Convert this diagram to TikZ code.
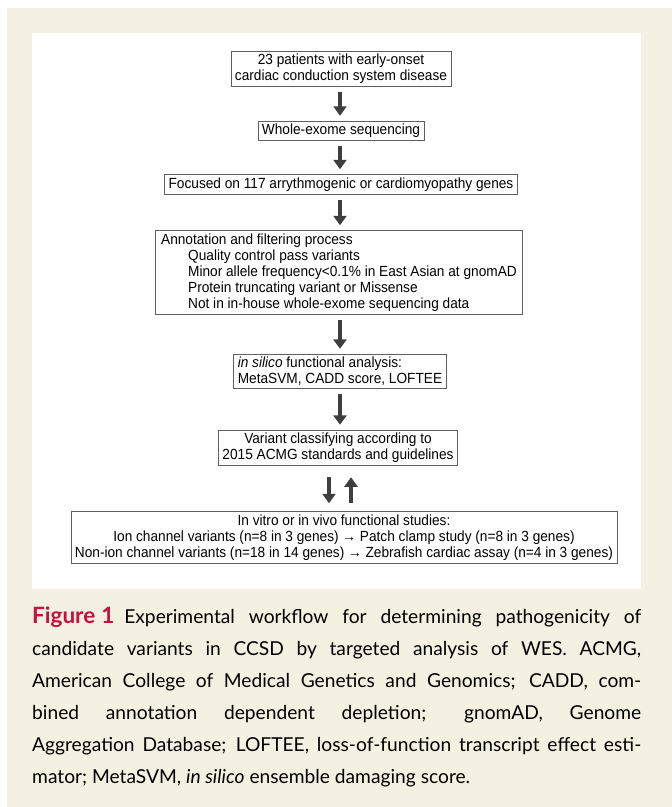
\documentclass[tikz,border=0pt]{standalone}
\usepackage{fontspec}
\setmainfont{Liberation Sans}[FakeStretch=0.93]
\newfontfamily\capfont{Lato}
\usetikzlibrary{arrows.meta}
\definecolor{cream}{RGB}{244,240,226}
\definecolor{figred}{RGB}{200,16,60}
\definecolor{arrgray}{RGB}{62,62,62}
\definecolor{boxline}{RGB}{95,95,95}
\begin{document}
\begin{tikzpicture}[x=1pt,y=-1pt,
  box/.style={draw=boxline, line width=0.8pt, fill=white, inner xsep=4pt, inner ysep=3pt,
    font=\fontsize{14.7}{16}\selectfont, align=center},
  arr/.style={draw=arrgray, line width=3.1pt, -{Triangle[width=13pt,length=9.5pt]},
    shorten <=5pt, shorten >=5pt}]
\useasboundingbox (0,0) rectangle (672,807);
\fill[white] (0,0) rectangle (672,807);
\fill[cream] (7,8) rectangle (672,807);
\fill[white] (32,33) rectangle (641,589);

\node[box] (b1) at (341,69) {23 patients with early-onset\\cardiac conduction system disease};
\node[box] (b2) at (341,131) {Whole-exome sequencing};
\node[box] (b3) at (341,184.5) {Focused on 117 arrythmogenic or cardiomyopathy genes};
\node[box, align=left, inner xsep=6pt] (b4) at (339,272.5) {Annotation and filtering process\\
\hspace*{27pt}Quality control pass variants\\
\hspace*{27pt}Minor allele frequency<0.1\% in East Asian at gnomAD\\
\hspace*{27pt}Protein truncating variant or Missense\\
\hspace*{27pt}Not in in-house whole-exome sequencing data};
\node[box, align=left] (b5) at (340,371.5) {\textit{in silico} functional analysis:\\MetaSVM, CADD score, LOFTEE};
\node[box] (b6) at (338,448) {Variant classifying according to\\2015 ACMG standards and guidelines};
\node[box] (b7) at (344,537.5) {In vitro or in vivo functional studies:\\
Ion channel variants (n=8 in 3 genes) → Patch clamp study (n=8 in 3 genes)\\
Non-ion channel variants (n=18 in 14 genes) → Zebrafish cardiac assay (n=4 in 3 genes)};

\coordinate (ax) at (340,0);
\draw[arr] (b1.south -| ax) -- (b2.north -| ax);
\draw[arr] (b2.south -| ax) -- (b3.north -| ax);
\draw[arr] (b3.south -| ax) -- (b4.north -| ax);
\draw[arr] (b4.south -| ax) -- (b5.north -| ax);
\draw[arr] (b5.south -| ax) -- (b6.north -| ax);
\coordinate (dx) at (329,0);
\coordinate (ux) at (351,0);
\draw[arr, shorten <=11pt, shorten >=8pt] (b6.south -| dx) -- (b7.north -| dx);
\draw[arr, shorten <=8pt, shorten >=11pt] (b7.north -| ux) -- (b6.south -| ux);

\node[anchor=north west, inner sep=0pt, text width=609pt, align=justify,
  font=\capfont\fontsize{19.2}{32}\selectfont] (cap) at (32,607) {\noindent
{\bfseries\color{figred}\fontsize{22.5}{32}\selectfont Figure\hspace{6pt}1}\hspace{10pt}Experimental workflow for determining pathogenicity of\linebreak
candidate variants in CCSD by targeted analysis of WES. ACMG,\linebreak
American College of Medical Genetics and Genomics; CADD, com-\linebreak
bined annotation dependent depletion; gnomAD, Genome\linebreak
Aggregation Database; LOFTEE, loss-of-function transcript effect esti-\linebreak
mator; MetaSVM, \textit{in silico} ensemble damaging score.};
\end{tikzpicture}
\end{document}
